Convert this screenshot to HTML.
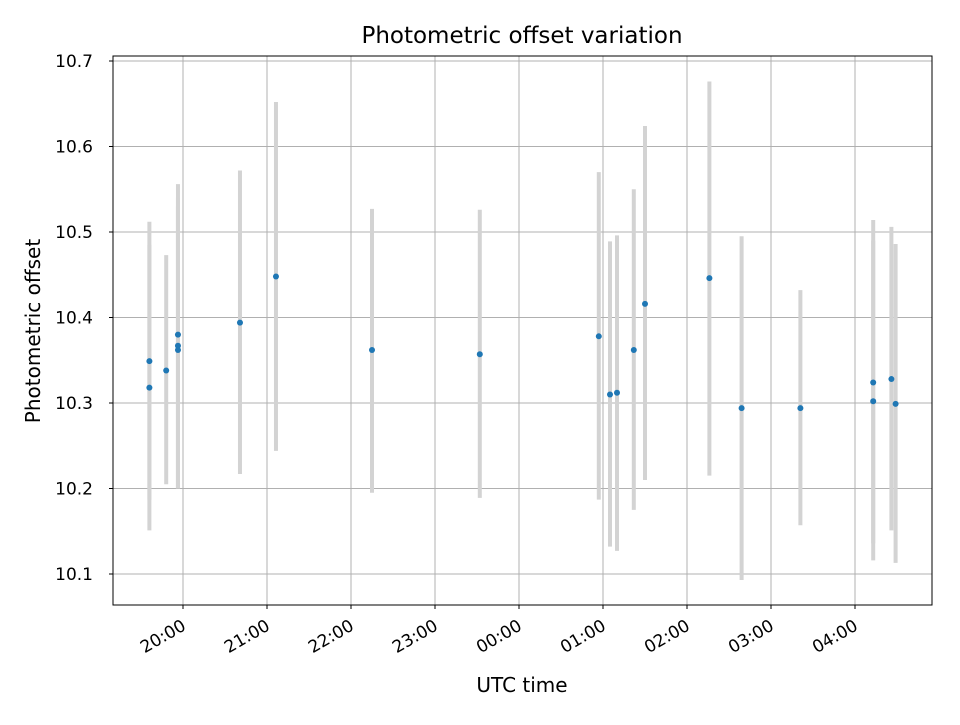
<!DOCTYPE html>
<html><head><meta charset="utf-8"><style>
body{margin:0;background:#fff}
svg text{font-family:"DejaVu Sans","Liberation Sans",sans-serif;fill:#000}
</style></head><body>
<svg id="c" width="960" height="720"></svg>
<script>
// minutes relative to 20:00 UTC
const times=[-24,-24,-12,-3.6,-3.6,-3.6,40.7,66.4,135,212,297,305,310,322,330,376,399,441,493,493,506,509];
const values=[10.349,10.318,10.338,10.380,10.367,10.362,10.394,10.448,10.362,10.357,10.378,10.310,10.312,10.362,10.416,10.446,10.294,10.294,10.324,10.302,10.328,10.299];
const errLow=[10.187,10.151,10.205,10.200,10.200,10.200,10.217,10.244,10.195,10.189,10.187,10.132,10.127,10.175,10.210,10.215,10.093,10.157,10.136,10.116,10.151,10.113];
const errHigh=[10.512,10.485,10.473,10.556,10.540,10.530,10.572,10.652,10.527,10.526,10.570,10.489,10.496,10.550,10.624,10.676,10.495,10.432,10.514,10.490,10.506,10.486];
const xTicks=[0,60,120,180,240,300,360,420,480];
const xTickLabels=["20:00","21:00","22:00","23:00","00:00","01:00","02:00","03:00","04:00"];
const yTicks=[10.1,10.2,10.3,10.4,10.5,10.6,10.7];

const NS="http://www.w3.org/2000/svg",svg=document.getElementById('c');
const L=113,R=932,T=56,B=605;
const xs=m=>183+m*1.4;
const ys=v=>61+(10.7-v)*855;
function el(t,a,p){const e=document.createElementNS(NS,t);for(const k in a)e.setAttribute(k,a[k]);(p||svg).appendChild(e);return e;}
const g=el('g',{});

xTicks.forEach((m,i)=>{const x=xs(m);
 const l=el('line',{x1:x,x2:x,y1:T,y2:B,stroke:'#b0b0b0','stroke-width':1},g);
 
 el('line',{x1:x,x2:x,y1:B,y2:B+4,stroke:'#000'});
 const ax=x+4,ay=B+24;
 const t=el('text',{x:ax,y:ay,'font-size':17,'text-anchor':'end',transform:`rotate(-30 ${ax} ${ay})`});
 t.textContent=xTickLabels[i];
});
yTicks.forEach(v=>{const y=ys(v);
 const l=el('line',{x1:L,x2:R,y1:y,y2:y,stroke:'#b0b0b0','stroke-width':1},g);
 
 el('line',{x1:L-4,x2:L,y1:y,y2:y,stroke:'#000'});
 const t=el('text',{x:L-20,y:y+6,'font-size':17,'text-anchor':'end'});
 t.textContent=v.toFixed(1);
});
times.forEach((m,i)=>{const x=xs(m);
 const b=el('line',{x1:x,x2:x,y1:ys(errHigh[i]),y2:ys(errLow[i]),stroke:'#d3d3d3','stroke-width':4});
 
});
times.forEach((m,i)=>{
 const c=el('circle',{cx:xs(m),cy:ys(values[i]),r:3,fill:'#1f77b4'});
 
});
const f=el('rect',{x:L,y:T,width:R-L,height:B-T,fill:'none',stroke:'#000','stroke-width':1});

let t=el('text',{x:522,y:43,'font-size':23,'text-anchor':'middle'});t.textContent='Photometric offset variation';

t=el('text',{x:522,y:692,'font-size':20,'text-anchor':'middle'});t.textContent='UTC time';

t=el('text',{x:40,y:331,'font-size':20,'text-anchor':'middle',transform:'rotate(-90 40 331)'});t.textContent='Photometric offset';

</script>
</body></html>
